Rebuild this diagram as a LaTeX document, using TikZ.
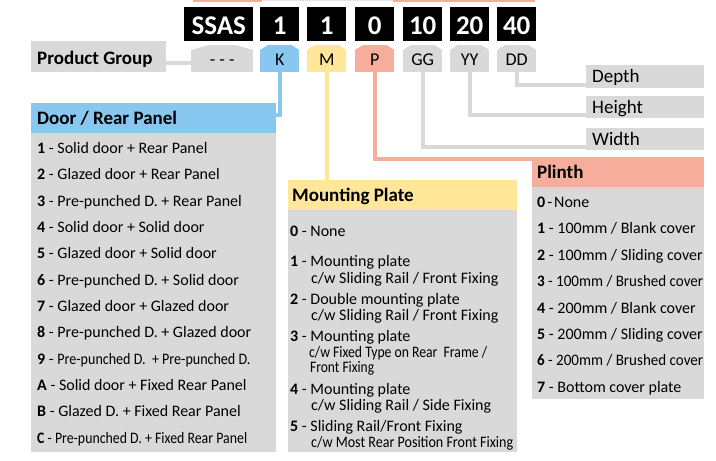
\documentclass[tikz,border=0pt]{standalone}
\usepackage{fontspec}
\setmainfont{Carlito}
\usepackage{graphicx}
\usetikzlibrary{calc}
\definecolor{gr}{HTML}{D9D9D9}
\definecolor{bl}{HTML}{88C8F0}
\definecolor{ye}{HTML}{FFE699}
\definecolor{sa}{HTML}{F6AD9B}
\newcommand{\fs}[1]{\fontsize{#1}{#1}\selectfont}
\newcommand{\itm}[2]{\textbf{#1} - #2}
\newcommand{\cond}[2]{\resizebox{#1pt}{\height}{#2}}
\newcommand{\wsp}{\hspace{4.3pt}}
\begin{document}
\begin{tikzpicture}[x=1pt,y=-1pt,
  blk/.style={fill=black,text=white,font=\fs{27}\bfseries,minimum height=34,inner sep=0,text height=20,text depth=0,anchor=north west},
  lbl/.style={minimum height=22,minimum width=39,inner sep=0,font=\fs{18},text height=8,text depth=0,anchor=north west},
  tagbox/.style={fill=gr,anchor=north west,inner ysep=0,inner xsep=6,align=left,font=\fs{19},text depth=0},
  hdr/.style={anchor=north west,inner ysep=0,align=left,font=\fs{19}\bfseries,text height=12,text depth=0,minimum height=30},
  panel/.style={fill=gr,anchor=north west,inner sep=0},
  itmtxt/.style={anchor=base west,inner sep=0,font=\fs{16}},
  conn/.style={line width=4pt}]
\useasboundingbox (0,0) rectangle (716,461);
% thin strip at the top edge
\fill[sa] (193,0) rectangle (262,1.5);
\fill[gr!70] (262,0) rectangle (393,1.2);
\fill[sa] (393,0) rectangle (535,1.5);

% code boxes
\node[blk,minimum width=69] (ssas) at (184,7) {SSAS};
\node[blk,minimum width=39] (c1) at (260,7) {1};
\node[blk,minimum width=39] (c2) at (307,7) {1};
\node[blk,minimum width=39] (c3) at (355,7) {0};
\node[blk,minimum width=39] (c4) at (403,7) {10};
\node[blk,minimum width=39] (c5) at (450,7) {20};
\node[blk,minimum width=39] (c6) at (497,7) {40};

% label tags
\node[lbl,fill=gr,minimum width=62] (dash) at (191,50) {- - -};
\node[lbl,fill=bl] (k) at (260,50) {K};
\node[lbl,fill=ye] (m) at (307,50) {M};
\node[lbl,fill=sa] (p) at (355,50) {P};
\node[lbl,fill=gr] (gg) at (403,50) {GG};
\node[lbl,fill=gr] (yy) at (450,50) {YY};
\node[lbl,fill=gr] (dd) at (497,50) {DD};
\foreach \n/\c/\i in {dash/gr/18,k/bl/8,m/ye/8,p/sa/8,gg/gr/8,yy/gr/8,dd/gr/8}
  \fill[\c] (\n.north west) -- ($(\n.north west)+(\i,-5)$) -- ($(\n.north east)+(-\i,-5)$) -- (\n.north east) -- cycle;

% side tags
\node[tagbox,font=\fs{19}\bfseries,text width=123,minimum height=31,text height=15] (pg) at (31,41) {Product\wsp Group};
\node[tagbox,text width=106,minimum height=23,text height=11] (depth) at (586,65) {Depth};
\node[tagbox,text width=106,minimum height=22,text height=12] (height) at (586,96) {Height};
\node[tagbox,text width=106,minimum height=22,text height=12] (width) at (586,128) {Width};

% panels
\node[panel,minimum width=245,minimum height=319] (db) at (31,133) {};
\node[hdr,fill=bl,text width=233,inner xsep=6] (dh) at (31,103) {Door\wsp/\wsp Rear\wsp Panel};
\node[panel,minimum width=229,minimum height=242] (mb) at (288,210) {};
\node[hdr,fill=ye,text width=221,inner xsep=4] (mh) at (288,180) {Mounting\wsp Plate};
\node[panel,minimum width=172,minimum height=212] (pb) at (532,187) {};
\node[hdr,fill=sa,text width=162,inner xsep=5] (ph) at (532,157) {Plinth};

% connectors
\draw[conn,bl] (k.south) |- ([yshift=3pt]dh.east);
\draw[conn,ye] (m.south) -- (m.south |- mh.north);
\draw[conn,sa] (p.south) |- ([yshift=-2pt]ph.north west);
\draw[conn,gr] ([yshift=-6.5pt]pg.east) -- ([yshift=-6.5pt]pg.east -| dash.west);
\draw[conn,gr] (dd.south) |- ([yshift=-8pt]depth.west);
\draw[conn,gr] (yy.south) |- ([yshift=-8pt]height.west);
\draw[conn,gr] (gg.south) |- ([yshift=-8pt]width.west);

% door / rear panel items
\node[itmtxt] (d1) at (37,153.3) {\itm{1}{Solid door + Rear Panel}};
\node[itmtxt] (d2) at (37,179.7) {\itm{2}{Glazed door + Rear Panel}};
\node[itmtxt] (d3) at (37,206.0) {\itm{3}{Pre-punched D. + Rear Panel}};
\node[itmtxt] (d4) at (37,232.4) {\itm{4}{Solid door + Solid door}};
\node[itmtxt] (d5) at (37,258.7) {\itm{5}{Glazed door + Solid door}};
\node[itmtxt] (d6) at (37,285.1) {\itm{6}{Pre-punched D. + Solid door}};
\node[itmtxt] (d7) at (37,311.5) {\itm{7}{Glazed door + Glazed door}};
\node[itmtxt] (d8) at (37,337.8) {\itm{8}{Pre-punched D. + Glazed door}};
\node[itmtxt] (d9) at (37,364.2) {\itm{9}{\cond{193}{Pre-punched D.\ \ + Pre-punched D.}}};
\node[itmtxt] (da) at (37,390.5) {\itm{A}{Solid door + Fixed Rear Panel}};
\node[itmtxt] (dB) at (37,416.9) {\itm{B}{Glazed D. + Fixed Rear Panel}};
\node[itmtxt] (dc) at (37,443.3) {\cond{210}{\itm{C}{Pre-punched D. + Fixed Rear Panel}}};

% mounting plate items
\node[itmtxt] (m0) at (290,236.7) {\itm{0}{None}};
\node[itmtxt] (m1) at (290,266.7) {\itm{1}{Mounting plate}};
\node[itmtxt] (m1b) at (311,283) {c/w Sliding Rail / Front Fixing};
\node[itmtxt] (m2) at (290,304) {\itm{2}{Double mounting plate}};
\node[itmtxt] (m2b) at (311,320.5) {c/w Sliding Rail / Front Fixing};
\node[itmtxt] (m3) at (290,341) {\itm{3}{Mounting plate}};
\node[itmtxt] (m3b) at (309,357) {\cond{178}{c/w Fixed Type on Rear\ \ Frame /}};
\node[itmtxt] (m3c) at (310,372.5) {\cond{64}{Front Fixing}};
\node[itmtxt] (m4) at (290,394) {\itm{4}{Mounting plate}};
\node[itmtxt] (m4b) at (311,410) {c/w Sliding Rail / Side Fixing};
\node[itmtxt] (m5) at (290,431.5) {\itm{5}{Sliding Rail/Front Fixing}};
\node[itmtxt] (m5b) at (311,447) {\cond{202}{c/w Most Rear Position Front Fixing}};

% plinth items
\node[itmtxt] (p0) at (537,207.5) {\textbf{0}\hspace{2pt}-\hspace{2pt}None};
\node[itmtxt] (p1) at (537,233.9) {\itm{1}{100mm / Blank cover}};
\node[itmtxt] (p2) at (537,260.3) {\itm{2}{100mm / Sliding cover}};
\node[itmtxt] (p3) at (537,286.7) {\cond{166}{\itm{3}{100mm / Brushed cover}}};
\node[itmtxt] (p4) at (537,313.1) {\itm{4}{200mm / Blank cover}};
\node[itmtxt] (p5) at (537,339.5) {\itm{5}{200mm / Sliding cover}};
\node[itmtxt] (p6) at (537,365.9) {\cond{166}{\itm{6}{200mm / Brushed cover}}};
\node[itmtxt] (p7) at (537,392.3) {\itm{7}{Bottom cover plate}};
\end{tikzpicture}
\end{document}
